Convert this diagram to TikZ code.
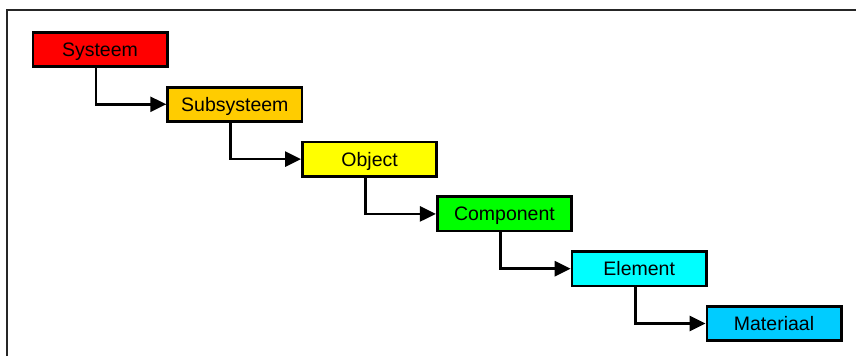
\documentclass[tikz,border=0pt]{standalone}
\usepackage{fontspec}
\setmainfont{Liberation Sans}
\usetikzlibrary{arrows.meta,calc}

\definecolor{cSys}{RGB}{255,0,0}
\definecolor{cSub}{RGB}{255,204,0}
\definecolor{cObj}{RGB}{255,255,0}
\definecolor{cComp}{RGB}{0,255,0}
\definecolor{cElem}{RGB}{0,255,255}
\definecolor{cMat}{RGB}{0,204,255}

\tikzset{
  levelbox/.style={draw=black, line width=2.7pt, fill=#1,
    minimum width=134.3pt, minimum height=34.3pt, inner sep=0pt,
    text height=14pt, text depth=0pt,
    font=\fontsize{19.5}{20}\selectfont},
  conn/.style={draw=black, line width=2.7pt,
    -{Triangle[length=16pt,width=15pt]}},
  frameline/.style={draw=black!85, line width=1.6pt}
}

\begin{document}
\begin{tikzpicture}[x=1pt,y=-1pt]
  \useasboundingbox (0,0) rectangle (856,356);

  % outer frame (only top and left edges fall inside the page)
  \coordinate (fa) at (7,356);
  \coordinate (fb) at (7,10);
  \coordinate (fc) at (856,10);
  \draw[frameline] (fa) -- (fb) -- (fc);

  % hierarchy levels
  \node[levelbox=cSys]  (sys)  at (100.0, 49.5) {Systeem};
  \node[levelbox=cSub]  (sub)  at (234.8,104.3) {Subsysteem};
  \node[levelbox=cObj]  (obj)  at (369.6,159.1) {Object};
  \node[levelbox=cComp] (comp) at (504.4,213.9) {Component};
  \node[levelbox=cElem] (elem) at (639.2,268.7) {Element};
  \node[levelbox=cMat]  (mat)  at (774.0,323.5) {Materiaal};

  % elbow connectors from each level to the next
  \draw[conn] ($(sys.south)+(-4,0)$)  |- (sub.west);
  \draw[conn] ($(sub.south)+(-4,0)$)  |- (obj.west);
  \draw[conn] ($(obj.south)+(-4,0)$)  |- (comp.west);
  \draw[conn] ($(comp.south)+(-4,0)$) |- (elem.west);
  \draw[conn] ($(elem.south)+(-4,0)$) |- (mat.west);
\end{tikzpicture}
\end{document}
